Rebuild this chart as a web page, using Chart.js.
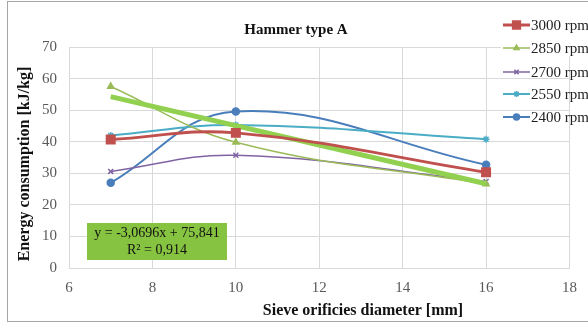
<!DOCTYPE html>
<html>
<head>
<meta charset="utf-8">
<script src="https://cdn.jsdelivr.net/npm/chart.js@4.4.1/dist/chart.umd.min.js"></script>
<style>
html,body{margin:0;padding:0;background:#fff;}
#c{display:block;}
</style>
</head>
<body>
<canvas id="c" width="588" height="327"></canvas>
<script>
// ---- data ----
const diameters = [7, 10, 16];
const rpm3000 = [40.7, 42.8, 30.3];
const rpm2850 = [57.5, 39.8, 26.6];
const rpm2700 = [30.6, 35.7, 27.4];
const rpm2550 = [42.0, 45.3, 40.8];
const rpm2400 = [27.0, 49.6, 32.7];
const trendX = [7, 16];
const trendY = [54.3, 26.7];
const seriesNames = ['3000 rpm', '2850 rpm', '2700 rpm', '2550 rpm', '2400 rpm'];
const xTicks = [6, 8, 10, 12, 14, 16, 18];
const yTicks = [0, 10, 20, 30, 40, 50, 60, 70];
const chartTitle = 'Hammer type A';
const xTitle = 'Sieve orificies diameter [mm]';
const yTitle = 'Energy consumption [kJ/kg]';
const trendLabel = ['y = -3,0696x + 75,841', 'R\u00B2 = 0,914'];

const SERIF = "'Liberation Serif','Times New Roman',serif";

function pts(xs, ys){ return xs.map((x,i)=>({x:x, y:ys[i]})); }

const styles = [
  {color:'#C0504D', width:3, point:'rect', radius:6, order:0},
  {color:'#9BBB59', width:1.5, point:'triangle', radius:3.5, order:2},
  {color:'#8064A2', width:1.5, point:'crossRot', radius:3.5, order:2},
  {color:'#4BACC6', width:2, point:'star', radius:3.5, order:2},
  {color:'#4A7EBB', width:2, point:'circle', radius:3.5, order:2}
];
const seriesValues = [rpm3000, rpm2850, rpm2700, rpm2550, rpm2400];

const datasets = seriesValues.map((vals, i) => ({
  label: seriesNames[i],
  data: pts(diameters, vals),
  showLine: true,
  borderColor: styles[i].color,
  backgroundColor: styles[i].color,
  borderWidth: styles[i].width,
  pointStyle: styles[i].point,
  pointRadius: styles[i].radius,
  pointBorderWidth: 1.5,
  pointBorderColor: styles[i].color,
  pointBackgroundColor: styles[i].color,
  tension: 0.4,
  order: styles[i].order
}));
datasets.push({
  label: 'trend',
  data: pts(trendX, trendY),
  showLine: true,
  borderColor: '#92D050',
  borderWidth: 5,
  pointRadius: 0,
  tension: 0,
  order: 1
});

const decor = {
  id: 'decor',
  beforeDraw(chart){
    const ctx = chart.ctx;
    ctx.save();
    ctx.fillStyle = '#fff';
    ctx.fillRect(0,0,chart.width,chart.height);
    ctx.restore();
  },
  afterDraw(chart){
    const ctx = chart.ctx;
    ctx.save();
    // legend area cover
    ctx.fillStyle = '#fff';
    ctx.fillRect(501, 8, 87, 48);
    // legend
    const ys = [25, 48, 72, 94, 117];
    chart.data.datasets.slice(0,5).forEach((ds, i) => {
      const y = ys[i];
      ctx.strokeStyle = ds.borderColor;
      ctx.lineWidth = ds.borderWidth;
      ctx.beginPath(); ctx.moveTo(503, y); ctx.lineTo(530, y); ctx.stroke();
      ctx.fillStyle = ds.borderColor;
      ctx.strokeStyle = ds.borderColor;
      ctx.lineWidth = 1.5;
      const r = i === 0 ? 5.5 : 3;
      Chart.helpers.drawPoint(ctx, {pointStyle: ds.pointStyle, radius: r, rotation: 0, borderWidth: 1.5}, 516.5, y);
      ctx.fillStyle = '#222';
      ctx.font = "15px " + SERIF;
      ctx.textAlign = 'left';
      ctx.textBaseline = 'middle';
      ctx.fillText(ds.label, 531, y + 1);
    });
    // title
    ctx.fillStyle = '#111';
    ctx.font = "bold 15px " + SERIF;
    ctx.textAlign = 'center';
    ctx.textBaseline = 'middle';
    ctx.fillText(chartTitle, 296, 30);
    // x title
    ctx.font = "bold 16px " + SERIF;
    ctx.fillText(xTitle, 363, 311);
    // y title
    ctx.save();
    ctx.translate(25, 164);
    ctx.rotate(-Math.PI/2);
    ctx.fillText(yTitle, 0, 0);
    ctx.restore();
    // trend label box
    ctx.fillStyle = '#86C341';
    ctx.fillRect(87, 223, 140, 37);
    ctx.fillStyle = '#111';
    ctx.font = "14px " + SERIF;
    ctx.fillText(trendLabel[0], 157, 233);
    ctx.fillText(trendLabel[1], 157, 250);
    // frame
    ctx.strokeStyle = '#a6a6a6';
    ctx.lineWidth = 1;
    ctx.strokeRect(7.5, 1.5, 620, 320);
    ctx.restore();
  }
};

new Chart(document.getElementById('c'), {
  type: 'scatter',
  data: { datasets: datasets },
  plugins: [decor],
  options: {
    responsive: false,
    devicePixelRatio: 1,
    animation: false,
    layout: { padding: { left: 0, top: 47, right: 15, bottom: 0 } },
    plugins: { legend: { display: false }, title: { display: false }, tooltip: { enabled: false } },
    scales: {
      x: {
        type: 'linear', min: 6, max: 18,
        afterBuildTicks(scale){ scale.ticks = xTicks.map(v => ({value: v})); },
        afterFit(scale){ scale.height = 59; },
        grid: { color: '#d9d9d9', drawTicks: false },
        border: { color: '#d9d9d9' },
        ticks: { padding: 11, color: '#595959', font: { family: SERIF, size: 15 } }
      },
      y: {
        type: 'linear', min: 0, max: 70,
        afterBuildTicks(scale){ scale.ticks = yTicks.map(v => ({value: v})); },
        afterFit(scale){ scale.width = 69; },
        grid: { color: '#d9d9d9', drawTicks: false },
        border: { color: '#d9d9d9' },
        ticks: { padding: 12, color: '#595959', font: { family: SERIF, size: 15 } }
      }
    }
  }
});
</script>
</body>
</html>
